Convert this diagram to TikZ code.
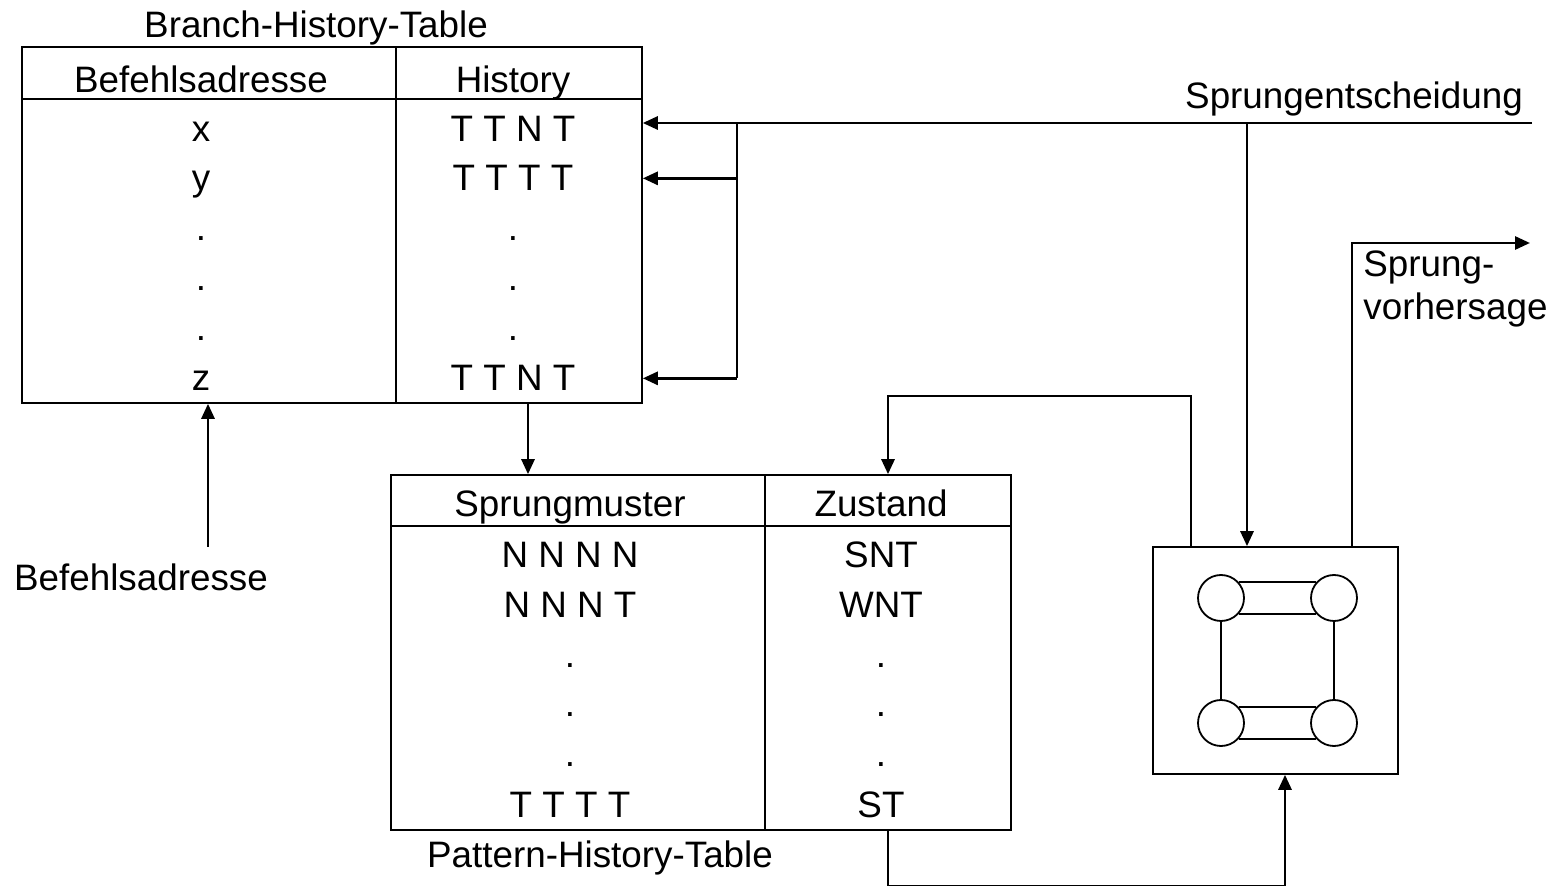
\documentclass[tikz,border=0pt]{standalone}
\usepackage{fontspec}
\setmainfont{Liberation Sans}
\usetikzlibrary{arrows.meta}
\begin{document}
\begin{tikzpicture}[x=0.5pt, y=-0.5pt,
    every node/.style={font=\fontsize{18.4}{22}\selectfont, inner sep=0pt},
    txt/.style={anchor=base},
    table/.style={draw, line width=0.8pt, minimum width=310pt},
    sep/.style={line width=1.1pt},
    ln/.style={line width=1.4pt},
    arr/.style={line width=1.4pt, -{Triangle[length=7.5pt, width=6.5pt]}},
    state/.style={circle, draw, line width=0.9pt, minimum size=23pt}]
  \useasboundingbox (0,0) rectangle (1563,886);

  % Branch-History-Table
  \node[table, minimum height=178pt] (bht) at (332,225) {};
  \draw[sep] ([xshift=187.5pt]bht.north west) -- ([xshift=187.5pt]bht.south west);
  \draw[sep] ([yshift=-26.5pt]bht.north west) -- ([yshift=-26.5pt]bht.north east);
  \node[txt] (bhtname) at (316,38) {Branch-History-Table};
  \node[txt] (ba) at (201,93) {Befehlsadresse};
  \node[txt] (hi) at (513,93) {History};
  \foreach \a/\h/\yy [count=\i] in {x/T T N T/142, y/T T T T/191, ././241, ././291, ././341, z/T T N T/391} {
    \node[txt] (a\i) at (201,\yy) {\a};
    \node[txt] (h\i) at (513,\yy) {\h};
  }

  % Pattern-History-Table
  \node[table, minimum height=177.5pt] (pht) at (701,652.5) {};
  \draw[sep] ([xshift=187.5pt]pht.north west) -- ([xshift=187.5pt]pht.south west);
  \draw[sep] ([yshift=-26pt]pht.north west) -- ([yshift=-26pt]pht.north east);
  \node[txt] (phtname) at (600,867) {Pattern-History-Table};
  \node[txt] (sm) at (570,517) {Sprungmuster};
  \node[txt] (zs) at (881,517) {Zustand};
  \foreach \p/\z/\yy [count=\i] in {N N N N/SNT/568, N N N T/WNT/618, ././668, ././717, ././767, T T T T/ST/817} {
    \node[txt] (p\i) at (570,\yy) {\p};
    \node[txt] (z\i) at (881,\yy) {\z};
  }

  % Zustandsautomat
  \node[draw, line width=0.8pt, minimum width=122.5pt, minimum height=113.5pt] (fsm) at (1275.5,660.5) {};
  \node[state] (s1) at (1221,598) {};
  \node[state] (s2) at (1334,598) {};
  \node[state] (s3) at (1221,723) {};
  \node[state] (s4) at (1334,723) {};
  \draw[line width=0.9pt] (s1.41) -- (s2.139) (s1.-41) -- (s2.-139);
  \draw[line width=0.9pt] (s3.41) -- (s4.139) (s3.-41) -- (s4.-139);
  \draw[line width=0.9pt] (s1) -- (s3) (s2) -- (s4);

  % labels outside
  \node[txt] (bain) at (141,591) {Befehlsadresse};
  \node[txt] (sent) at (1354,109) {Sprungentscheidung};
  \node[txt, anchor=base west] (sv1) at (1363,277) {Sprung-};
  \node[txt, anchor=base west] (sv2) at (1363,320) {vorhersage};

  \coordinate (se) at (1532,123);
  \coordinate (jn) at (737,123);
  \coordinate (dec) at (1247,123);
  \coordinate (ad) at (208,547);
  \coordinate (hp) at (528,403);
  \coordinate (upd) at (1191,396);
  \coordinate (fb) at (888,396);
  \coordinate (pr) at (1352,243);
  \coordinate (prend) at (1530,243);
  \coordinate (lo) at (888,886);
  \coordinate (lo2) at (1285,886);

  % connectors
  \draw[arr] (se) -- (se -| bht.east);
  \draw[ln] (jn) -- (jn |- h6);
  \draw[arr] (jn |- h2) -- (h2 -| bht.east);
  \draw[arr] (jn |- h6) -- (h6 -| bht.east);
  \draw[arr] (ad) -- (ad |- bht.south);
  \draw[arr] (hp |- bht.south) -- (hp |- pht.north);
  \draw[arr] (dec) -- (dec |- fsm.north);
  \draw[arr] (upd |- fsm.north) -- (upd) -- (fb) -- (fb |- pht.north);
  \draw[arr] (pr |- fsm.north) -- (pr) -- (prend);
  \draw[arr] (lo |- pht.south) -- (lo) -- (lo2) -- (lo2 |- fsm.south);
\end{tikzpicture}
\end{document}
